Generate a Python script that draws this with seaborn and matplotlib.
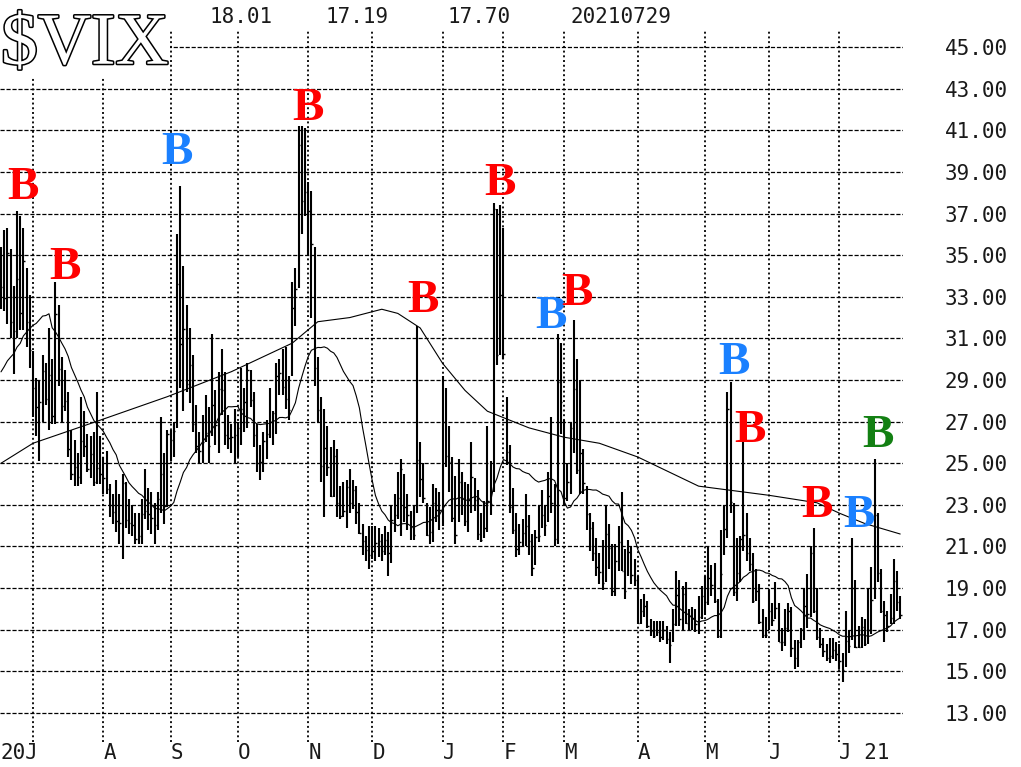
import numpy as np
import pandas as pd
import matplotlib
matplotlib.use("Agg")
import matplotlib.pyplot as plt
import matplotlib.patheffects as pe
from matplotlib.patches import Rectangle
import seaborn as sns

# ---------------- data ----------------
holidays = ["2020-07-03", "2020-09-07", "2020-11-26", "2020-12-25", "2021-01-01",
            "2021-01-18", "2021-02-15", "2021-04-02", "2021-05-31", "2021-07-05"]
first_day, last_day = "2020-06-17", "2021-07-29"

high = [
    # Jun 2020
    35.4, 36.2, 36.3, 35.3, 33.5, 37.1, 36.9, 36.3, 34.4, 33.1,
    # Jul
    30.4, 29.1, 29.0, 30.2, 29.8, 31.5, 30.0, 33.7, 32.6, 30.1, 29.5, 28.4, 26.6, 26.1, 25.5, 28.2,
    27.5, 26.4, 26.3, 26.5, 28.4, 26.3,
    # Aug
    25.3, 25.6, 24.0, 23.5, 24.2, 23.5, 24.5, 24.1, 23.3, 23.0, 22.6, 22.6, 23.3, 24.7, 23.8, 23.6,
    23.1, 23.6, 27.2, 25.5, 26.6,
    # Sep
    26.6, 27.0, 36.0, 38.3, 34.5, 32.6, 31.5, 30.2, 27.8, 26.5, 27.3, 28.3, 27.7, 31.2, 28.5, 29.4,
    30.5, 29.4, 27.3, 26.9, 27.6,
    # Oct
    27.0, 29.6, 28.6, 29.8, 29.5, 28.4, 26.9, 25.9, 26.5, 27.1, 28.6, 27.5, 29.8, 30.0, 30.5, 30.6,
    29.2, 33.7, 34.4, 41.2, 41.2, 41.1,
    # Nov
    38.5, 38.1, 35.4, 30.1, 28.2, 27.6, 26.8, 25.8, 26.1, 25.7, 23.9, 24.1, 24.2, 24.7, 24.2, 23.9,
    23.1, 22.1, 21.5, 22.0,
    # Dec
    22.0, 22.0, 21.9, 21.6, 22.0, 21.7, 23.0, 23.5, 24.6, 25.2, 24.5, 23.5, 22.7, 23.0, 31.6, 26.0,
    25.0, 23.1, 22.9, 24.0, 23.8, 23.6,
    # Jan 2021
    29.2, 28.6, 26.8, 25.3, 24.4, 25.2, 24.6, 24.1, 24.0, 26.0, 24.3, 23.7, 22.6, 23.2, 26.8, 25.1,
    37.5, 37.2, 37.4,
    # Feb
    36.3, 28.2, 25.9, 23.8, 22.6, 22.1, 22.3, 23.5, 22.5, 21.6, 21.8, 23.0, 23.7, 23.0, 24.6, 27.2,
    24.0, 31.2, 30.8,
    # Mar
    27.1, 25.0, 27.0, 31.9, 30.0, 29.0, 25.7, 23.9, 22.6, 22.2, 21.4, 20.7, 21.3, 23.0, 22.1, 21.1,
    21.1, 22.0, 23.6, 20.9, 21.3, 21.0, 20.4,
    # Apr
    19.6, 18.5, 18.7, 18.4, 17.5, 17.4, 17.4, 17.4, 17.4, 17.2, 16.9, 18.0, 19.8, 19.4, 19.1, 19.3,
    18.0, 18.1, 18.0, 18.6, 19.1,
    # May
    19.6, 21.0, 20.1, 20.2, 18.5, 21.8, 23.0, 28.4, 28.9, 23.1, 21.4, 21.5, 26.0, 22.6, 21.4, 20.7,
    19.9, 19.2, 18.0, 17.6,
    # Jun
    18.9, 18.3, 19.3, 18.3, 17.1, 18.0, 18.3, 18.1, 16.5, 16.5, 17.1, 19.0, 19.7, 21.0, 21.9, 19.0,
    17.1, 16.6, 16.3, 16.6, 16.6, 16.4,
    # Jul
    16.3, 15.9, 17.9, 17.0, 21.4, 19.4, 17.2, 17.6, 17.5, 19.0, 20.0, 25.2, 22.6, 19.9, 18.4, 17.9,
    18.7, 20.4, 19.8, 18.6,
]

low = [
    # Jun 2020
    32.4, 32.3, 31.7, 31.0, 29.3, 31.0, 31.4, 31.4, 30.6, 29.6,
    # Jul
    27.2, 26.3, 25.1, 27.0, 27.8, 26.6, 26.9, 26.9, 28.7, 27.0, 27.5, 25.3, 24.2, 23.9, 23.9, 24.0,
    25.3, 24.6, 24.3, 23.9, 24.0, 24.0,
    # Aug
    23.5, 23.5, 22.4, 22.1, 21.7, 21.1, 20.4, 21.9, 21.6, 21.5, 21.1, 21.1, 21.1, 22.3, 21.8, 21.6,
    21.1, 21.8, 22.6, 22.1, 22.9,
    # Sep
    25.1, 25.3, 26.7, 28.6, 27.5, 28.4, 27.9, 26.5, 25.5, 25.0, 25.0, 26.0, 25.0, 26.3, 25.9, 25.5,
    27.3, 25.9, 25.7, 25.5, 25.0,
    # Oct
    25.3, 25.9, 26.5, 26.7, 27.7, 25.8, 24.6, 24.2, 24.6, 25.2, 26.2, 25.9, 26.4, 28.3, 28.3, 27.6,
    27.1, 29.2, 31.6, 33.4, 36.0, 36.9,
    # Nov
    35.0, 32.0, 28.7, 27.0, 24.1, 22.4, 24.4, 23.4, 23.4, 22.4, 22.3, 22.4, 21.9, 22.6, 22.8, 22.1,
    21.6, 20.6, 20.3, 19.9,
    # Dec
    20.4, 20.3, 20.5, 20.3, 20.6, 19.6, 20.2, 21.7, 22.3, 21.5, 22.2, 21.8, 21.3, 21.3, 22.6, 23.4,
    23.1, 21.5, 21.1, 21.2, 22.2, 21.8,
    # Jan 2021
    22.0, 24.8, 23.6, 22.2, 21.1, 22.2, 22.5, 22.0, 21.7, 22.6, 22.7, 21.3, 21.2, 21.4, 21.7, 22.5,
    23.6, 29.7, 30.2,
    # Feb
    30.0, 24.9, 22.6, 21.6, 20.5, 20.6, 21.0, 21.0, 20.6, 19.6, 20.1, 21.2, 21.9, 21.5, 22.2, 22.6,
    21.0, 21.1, 26.4,
    # Mar
    23.0, 23.2, 23.5, 25.5, 24.5, 23.5, 23.5, 21.8, 20.8, 20.3, 19.6, 19.2, 18.9, 19.3, 19.9, 18.6,
    18.6, 19.8, 19.8, 18.5, 19.6, 19.2, 19.1,
    # Apr
    17.3, 17.3, 17.6, 17.1, 16.7, 16.6, 16.7, 16.4, 16.5, 16.3, 15.4, 16.4, 17.2, 17.2, 17.0, 17.3,
    17.0, 17.0, 16.9, 16.8, 17.5,
    # May
    17.7, 18.2, 18.6, 18.3, 16.6, 16.6, 20.6, 21.4, 22.6, 18.6, 18.4, 19.3, 20.8, 20.3, 19.8, 18.3,
    18.4, 17.3, 16.6, 16.6,
    # Jun
    17.0, 17.2, 17.5, 16.4, 16.0, 16.2, 16.9, 15.7, 15.1, 15.2, 16.1, 16.5, 17.1, 17.6, 17.8, 16.5,
    16.1, 15.7, 15.5, 15.4, 15.6, 15.5,
    # Jul
    15.1, 14.5, 15.2, 15.9, 16.5, 16.1, 16.1, 16.1, 16.2, 16.3, 16.8, 18.5, 19.3, 17.8, 16.4, 16.9,
    17.3, 17.3, 17.9, 17.5,
]

close = [
    # Jun 2020
    33.47, 32.94, 35.12, 31.77, 31.37, 33.84, 32.22, 34.73, 31.78, 30.43,
    # Jul
    28.62, 27.68, 27.94, 29.43, 28.08, 29.26, 27.29, 32.19, 29.52, 27.76, 28.00, 25.68, 24.46, 24.84,
    24.32, 26.08, 25.84, 24.74, 25.44, 24.10, 24.76, 24.46,
    # Aug
    24.28, 23.76, 22.99, 22.65, 22.21, 22.13, 24.03, 22.28, 22.13, 22.05, 21.35, 21.51, 22.54, 22.72,
    22.54, 22.37, 22.03, 23.27, 24.47, 22.96, 26.41,
    # Sep
    26.12, 26.57, 33.60, 30.75, 31.46, 28.81, 29.71, 26.87, 25.85, 25.59, 26.04, 26.46, 25.83, 27.78,
    26.86, 28.58, 28.51, 26.38, 26.19, 26.27, 26.37,
    # Oct
    26.70, 27.63, 27.96, 29.48, 28.06, 26.36, 25.00, 25.07, 26.07, 26.40, 26.97, 27.41, 29.18, 29.35,
    28.65, 28.11, 27.55, 32.46, 33.35, 40.28, 37.59, 38.02,
    # Nov
    37.13, 35.55, 29.57, 27.58, 24.86, 25.75, 24.80, 23.45, 25.35, 23.10, 22.45, 22.71, 23.84, 23.11,
    23.70, 22.66, 21.64, 21.25, 20.84, 20.57,
    # Dec
    20.77, 21.17, 21.28, 20.79, 21.30, 20.68, 22.27, 22.52, 23.31, 24.72, 22.89, 22.50, 21.93, 21.57,
    25.16, 24.23, 23.31, 21.53, 21.70, 23.08, 22.77, 22.75,
    # Jan 2021
    26.97, 25.34, 25.07, 22.37, 21.56, 24.08, 23.33, 22.21, 23.25, 24.34, 23.24, 21.58, 21.32, 21.91,
    23.19, 23.02, 37.21, 30.21, 33.09,
    # Feb
    30.24, 25.56, 22.91, 21.77, 20.87, 21.24, 21.63, 21.99, 21.25, 19.97, 21.46, 21.50, 22.49, 22.05,
    23.45, 23.11, 21.34, 28.89, 27.95,
    # Mar
    23.35, 24.10, 26.67, 28.57, 24.66, 25.47, 24.03, 22.56, 21.91, 20.69, 20.03, 19.79, 19.23, 21.58,
    20.95, 18.88, 20.30, 21.20, 19.81, 18.86, 20.74, 19.61, 19.40,
    # Apr
    17.33, 17.91, 18.12, 17.16, 16.95, 16.69, 16.91, 16.65, 16.99, 16.57, 16.25, 17.29, 18.68, 17.50,
    18.71, 17.33, 17.64, 17.56, 17.28, 17.61, 18.61,
    # May
    18.31, 19.48, 19.15, 18.39, 16.69, 19.66, 21.84, 27.59, 23.13, 18.81, 19.72, 21.34, 21.57, 20.67,
    20.15, 18.40, 18.84, 17.36, 16.74, 16.76,
    # Jun
    17.90, 17.48, 18.04, 16.42, 16.42, 17.07, 17.89, 16.10, 15.65, 16.39, 17.02, 18.15, 17.75, 20.70,
    17.89, 16.66, 16.32, 15.97, 15.62, 15.76, 16.02, 15.83,
    # Jul
    15.48, 15.07, 16.44, 16.20, 19.00, 16.18, 16.17, 17.12, 16.33, 17.01, 18.45, 22.50, 19.73, 17.91,
    17.69, 17.20, 17.58, 19.36, 18.31, 17.70,
]

# closes of the 19 sessions before the first bar (for the 20-day average)
warmup_close = [27.99, 29.53, 28.16, 28.01, 27.62, 28.59, 27.51, 28.23, 26.84, 25.66,
                25.81, 24.52, 25.81, 27.57, 27.57, 40.79, 36.09, 34.40, 33.67]

# 200-day moving average
ma200_dates = ["2020-06-17", "2020-07-01", "2020-07-31", "2020-08-31", "2020-09-29",
               "2020-10-26", "2020-11-05", "2020-11-19", "2020-12-04", "2020-12-11",
               "2020-12-22", "2021-01-04", "2021-01-13", "2021-01-25", "2021-02-11",
               "2021-03-01", "2021-03-16", "2021-04-01", "2021-04-29", "2021-05-13",
               "2021-06-01", "2021-06-22", "2021-07-01", "2021-07-14", "2021-07-29"]
ma200_vals = [25.0, 25.96, 27.07, 28.2, 29.4, 30.77, 31.8, 32.0, 32.4, 32.2, 31.5, 29.8,
              28.5, 27.5, 26.7, 26.25, 25.96, 25.3, 23.9, 23.7, 23.46, 23.1, 22.6, 22.1, 21.6]

# "B" signals
b_dates = ["2020-06-26", "2020-07-16", "2020-09-03", "2020-11-02", "2020-12-23", "2021-01-29",
           "2021-02-23", "2021-03-05", "2021-05-14", "2021-05-21", "2021-06-22", "2021-07-12",
           "2021-07-20"]
b_vals = [37.69, 33.85, 39.37, 41.49, 32.26, 37.88, 31.49, 32.60, 29.28, 26.01, 22.40, 21.92, 25.77]
b_kinds = ["r", "r", "b", "r", "r", "r", "b", "r", "b", "r", "r", "b", "g"]

month_labels = ["J", "A", "S", "O", "N", "D", "J", "F", "M", "A", "M", "J", "J 21"]
y_ticks = list(range(13, 46, 2))
header_texts = ["18.01", "17.19", "17.70", "20210729"]
title = "$VIX"

# ---------------- drawing ----------------
sns.set_theme(style="white")
plt.rcParams["lines.scale_dashes"] = False
plt.rcParams["font.family"] = ["DejaVu Sans Mono", "DejaVu Sans"]

W, H = 1021, 767
fig = plt.figure(figsize=(W / 100, H / 100), dpi=100)
fig.patch.set_facecolor("white")
ax_l, ax_r, ax_t, ax_b = 0, 903, 30, 742
ax = fig.add_axes([ax_l / W, 1 - ax_b / H, (ax_r - ax_l) / W, (ax_b - ax_t) / H])
ax.set_facecolor("white")

days = pd.bdate_range(first_day, last_day)
days = days[~days.isin(pd.to_datetime(holidays))]
idx = np.arange(len(days))
pos = pd.Series(idx, index=days)

hi = np.array(high)
lo = np.array(low)
cl = np.array(close)

# bars
ax.vlines(idx, lo, hi, color="black", lw=1.5, zorder=3)
ax.hlines(cl, idx, idx + 0.45, color="black", lw=1.0, zorder=3)

# moving averages
ma20 = pd.Series(warmup_close + close).rolling(20).mean().iloc[len(warmup_close):].values
sns.lineplot(x=idx, y=ma20, ax=ax, color="black", lw=0.8, zorder=4)
ma200_x = pos[pd.to_datetime(ma200_dates)].values
sns.lineplot(x=ma200_x, y=ma200_vals, ax=ax, color="black", lw=0.8, zorder=4)

# scales
px_per_day = 3.2
x0 = 10 - 33 / px_per_day
ax.set_xlim(x0, x0 + (ax_r - ax_l) / px_per_day)
ax.set_ylim(13 - 29 / 20.81, 45 + 17 / 20.81)

month_first = days.to_series().groupby([days.year, days.month]).first().values[1:]
month_pos = pos[pd.to_datetime(month_first)].values
ax.set_xticks(month_pos)
ax.set_xticklabels([""] + month_labels[1:])
for lab in ax.get_xticklabels():
    lab.set_ha("left")
ax.set_yticks(y_ticks)
ax.set_yticklabels([f"{v:.2f}" for v in y_ticks])
ax.yaxis.tick_right()
ax.tick_params(axis="y", length=0, pad=30, labelsize=15, labelcolor="#1a1a1a")
ax.tick_params(axis="x", length=0, pad=1, labelsize=15, labelcolor="#1a1a1a")

# grid
ax.grid(False)
for v in y_ticks:
    ax.axhline(v, color="black", lw=0.9, ls=(0, (3.0, 1.3)), zorder=1)
for m in month_pos:
    ax.axvline(m, color="black", lw=1.3, ls=(0, (1.4, 2.0)), zorder=1)
for s in ax.spines.values():
    s.set_visible(False)

# B markers
b_colors = {"r": "#ff0000", "b": "#1a80ff", "g": "#138013"}
for d, v, k in zip(b_dates, b_vals, b_kinds):
    ax.text(pos[pd.Timestamp(d)], v, "B", color=b_colors[k], ha="center", va="baseline",
            fontsize=34, fontweight="bold", family=["Liberation Serif", "DejaVu Serif"], zorder=6)

# first bottom label
fig.text(0 / W, 1 - 753 / H, "20J", ha="left", va="center", fontsize=15, color="#1a1a1a")

# header numbers
for s, xp in zip(header_texts, [210, 325, 447, 570]):
    fig.text(xp / W, 1 - 17 / H, s, ha="left", va="center", fontsize=15, color="#1a1a1a")

# title box
fig.add_artist(Rectangle((0, 1 - 77 / H), 170 / W, 77 / H, transform=fig.transFigure,
                         facecolor="white", edgecolor="none", zorder=5))
fig.text(1 / W, 1 - 46 / H, title, ha="left", va="center", fontsize=53, color="white",
         family=["Liberation Serif", "DejaVu Serif"], zorder=6,
         path_effects=[pe.withStroke(linewidth=2.2, foreground="black")])

fig.savefig("out.png", dpi=100, facecolor="white")
